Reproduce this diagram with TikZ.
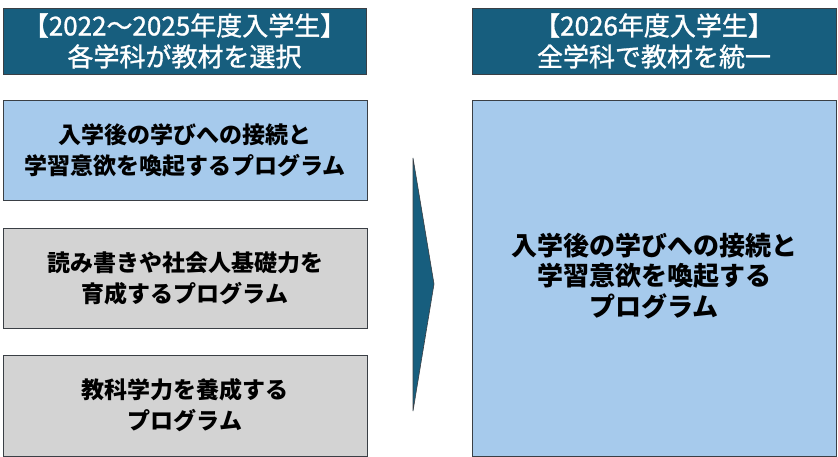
\documentclass[tikz,border=0pt]{standalone}
\usepackage{fontspec}
\setmainfont{Noto Sans CJK JP}
\newfontfamily\hdrfont{Noto Sans CJK JP}[FakeBold=1.2]
\definecolor{hdr}{HTML}{175E7E}
\definecolor{lblue}{HTML}{A6CAEC}
\definecolor{lgray}{HTML}{D3D3D3}
\definecolor{edge}{HTML}{3A3F45}
\begin{document}
\begin{tikzpicture}[x=1pt,y=-1pt,
  hdrbox/.style={draw=edge,line width=0.8pt,fill=hdr},
  prog/.style={draw=edge,line width=0.8pt},
  hdrtext/.style={text=white,align=center,font=\hdrfont\fontsize{26}{31}\selectfont},
  progtext/.style={align=center,font=\bfseries\fontsize{23}{31}\selectfont},
]
\useasboundingbox (0,0) rectangle (838,457);
\path[hdrbox] (3,8) rectangle (366,74);
\node[hdrtext] (h1) at (184.5,41) {【2022～2025年度入学生】\\各学科が教材を選択};
\path[hdrbox] (472,8) rectangle (836,74);
\node[hdrtext] (h2) at (654,41) {【2026年度入学生】\\全学科で教材を統一};
\path[prog,fill=lblue] (3,100) rectangle (367,200);
\node[progtext] (b1) at (185,150) {入学後の学びへの接続と\\学習意欲を喚起するプログラム};
\path[prog,fill=lgray] (3,228) rectangle (367,328);
\node[progtext] (b2) at (185,278) {読み書きや社会人基礎力を\\育成するプログラム};
\path[prog,fill=lgray] (3,355) rectangle (367,456);
\node[progtext] (b3) at (185,405.5) {教科学力を養成する\\プログラム};
\path[prog,fill=lblue] (472,100) rectangle (836,456);
\node[progtext,font=\bfseries\fontsize{26}{30.5}\selectfont] (r) at (654,276) {入学後の学びへの接続と\\学習意欲を喚起する\\プログラム};
\coordinate (a1) at (413,158);
\coordinate (a2) at (434,284);
\coordinate (a3) at (413,411);
\draw[fill=hdr,draw=edge,line width=0.6pt] (a1) -- (a2) -- (a3) -- cycle;
\end{tikzpicture}
\end{document}
